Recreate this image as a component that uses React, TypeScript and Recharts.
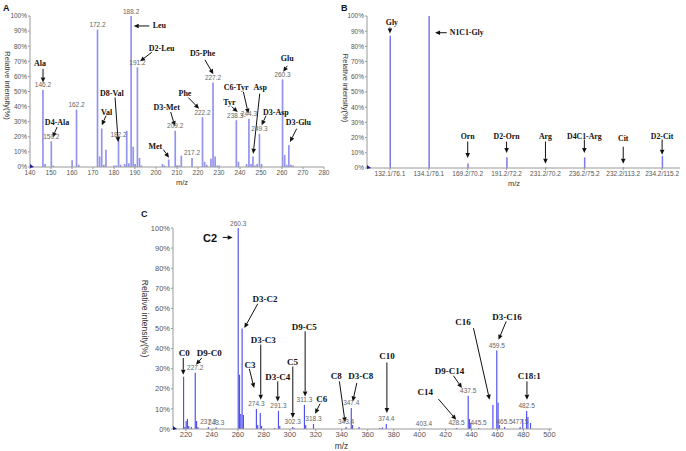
import React from 'react';
import { BarChart, Bar, XAxis, YAxis, LabelList, ReferenceLine, ReferenceDot } from 'recharts';

const SERIF = '"Liberation Serif", "Times New Roman", serif';
const SANS = '"Liberation Sans", Arial, sans-serif';

const Y_TICKS = [0, 10, 20, 30, 40, 50, 60, 70, 80, 90, 100];

// ---- panel A: amino acids ----
const A_MZ = [146.2, 147.2, 150.2, 151.2, 160.1, 162.2, 163.2, 172.2, 173.2, 174.2, 175.2, 176.2, 180.1, 181.1, 182.2, 183.2, 185.1, 186.1, 187.1, 188.2, 189.2, 190.1, 191.2, 192.2, 193.1, 203.1, 204.1, 206.1, 209.2, 210.1, 211.1, 212.1, 217.2, 222.2, 223.2, 224.2, 226.2, 227.2, 228.2, 229.2, 230.2, 238.3, 239.3, 243.2, 244.3, 245.3, 246.2, 247.2, 248.2, 249.3, 250.3, 260.3, 261.3, 262.3, 263.3, 264.3, 265.3];
const A_INT = [51, 2, 17, 1, 4.5, 38, 1.5, 91, 7, 25.5, 1.5, 11.5, 1, 1, 18, 1.5, 2, 24, 2.5, 100, 13.5, 2, 66, 6, 1, 2, 1, 5, 24, 1.2, 1, 7.5, 6, 33, 3.5, 1.5, 5.5, 56, 7, 1, 1, 31, 3.5, 2, 32, 2, 7, 1, 2, 22, 2, 58, 8, 1.5, 14.5, 1.5, 1];
const A_TAGS = ['146.2', '150.2', '162.2', '172.2', '182.2', '188.2', '191.2', '209.2', '217.2', '222.2', '227.2', '238.3-', '244.3', '249.3', '260.3'];
const A_TICKS = [140, 150, 160, 170, 180, 190, 200, 210, 220, 230, 240, 250, 260, 270, 280];

// ---- panel B: MRM transitions ----
const B_CATS = ['132.1/76.1', '134.1/76.1', '169.2/70.2', '191.2/72.2', '231.2/70.2', '236.2/75.2', '232.2/113.2', '234.2/115.2'];
const B_INT = [87, 100, 3, 7, 0.4, 7, 0.4, 8];

// ---- panel C: acylcarnitines ----
const C_MZ = [218.2, 219.2, 220.2, 221.2, 222.2, 224.2, 227.2, 228.2, 229.2, 237.3, 243.3, 260.3, 261.3, 262.3, 263.3, 264.3, 274.3, 275.3, 277.3, 278.3, 288.3, 291.3, 292.3, 302.3, 303.3, 311.3, 312.3, 318.3, 343.4, 347.4, 348.4, 353.4, 369.4, 371.4, 374.4, 403.4, 428.5, 437.5, 438.5, 439.5, 445.5, 456.5, 459.5, 460.5, 461.5, 465.5, 477.5, 479.5, 482.5, 483.5, 485.5];
const C_INT = [26, 1, 4, 5, 1.5, 1, 28, 4, 1, 1, 0.8, 100, 27, 7.5, 50, 7, 10, 2, 8, 1.5, 0.5, 9, 1.5, 1, 0.5, 12, 2, 2.5, 1, 10.5, 2, 1, 0.5, 0.8, 2.5, 0.3, 0.5, 16.5, 5, 3, 0.5, 12, 39, 13, 2, 1, 1, 5, 9, 6, 3];
const C_TAGS = ['227.2', '237.3', '243.3', '260.3', '274.3', '291.3', '302.3', '311.3', '318.3', '343.4', '347.4', '374.4', '403.4', '428.5', '437.5', '445.5', '459.5', '465.5', '477.5', '482.5'];
const C_TICKS = [220, 240, 260, 280, 300, 320, 340, 360, 380, 400, 420, 440, 460, 480, 500];

type Note = { t: string; tx: number; ty: number; a: number[]; anchor?: string; big?: boolean };

const A_NOTES: Note[] = [
  { t: 'Ala', tx: 144.8, ty: 68.6, a: [146.2, 65, 146.2, 56] },
  { t: 'D4-Ala', tx: 152.9, ty: 29.6, a: [152.9, 26.5, 150.8, 19.6] },
  { t: 'D8-Val', tx: 179, ty: 49, a: [180.5, 46, 182, 16.5] },
  { t: 'Val', tx: 176.5, ty: 36.4, a: [176.2, 34, 174.2, 27.6] },
  { t: 'Leu', tx: 201.6, ty: 93.8, a: [196.8, 93.4, 189.4, 93.4] },
  { t: 'D2-Leu', tx: 202.7, ty: 78.4, a: [198, 76, 192.4, 70] },
  { t: 'D3-Met', tx: 205.1, ty: 39.3, a: [207, 36.4, 209, 27] },
  { t: 'Met', tx: 199.7, ty: 13.7, a: [203.5, 11.5, 206.2, 6.2] },
  { t: 'Phe', tx: 213.8, ty: 49, a: [215.4, 46, 220.5, 38.6] },
  { t: 'D5-Phe', tx: 222.2, ty: 75, a: [223.3, 71, 227.3, 61.4] },
  { t: 'Tyr', tx: 234.9, ty: 43, a: [236, 40, 238.9, 36.4] },
  { t: 'C6-Tyr', tx: 238.2, ty: 52.6, a: [241.6, 49.7, 244, 35.4] },
  { t: 'Asp', tx: 249.6, ty: 52.6, a: [249.4, 48.6, 246.3, 8.8] },
  { t: 'D3-Asp', tx: 257.1, ty: 36.4, a: [252.4, 34, 250.3, 27.6] },
  { t: 'Glu', tx: 262.5, ty: 71.8, a: [262.5, 67, 260.6, 63] },
  { t: 'D3-Glu', tx: 267.8, ty: 29.8, a: [267, 25.4, 263.8, 16.6] },
];

const B_NOTES: Note[] = [
  { t: 'Gly', tx: 0.05, ty: 96, a: [0, 92.5, 0, 88.5] },
  { t: 'N1C1-Gly', tx: 1.54, ty: 89, a: [1.46, 89, 1.16, 89], anchor: 'start' },
  { t: 'Orn', tx: 2, ty: 20.7, a: [2, 17.4, 2, 6.5] },
  { t: 'D2-Orn', tx: 3, ty: 20.7, a: [3, 17.4, 3, 9.8] },
  { t: 'Arg', tx: 4, ty: 20.7, a: [4, 17.4, 4, 2.8] },
  { t: 'D4C1-Arg', tx: 5, ty: 20.7, a: [5, 18.7, 5, 9.8] },
  { t: 'Cit', tx: 6, ty: 19.5, a: [6, 14, 6, 2.8] },
  { t: 'D2-Cit', tx: 7, ty: 20.7, a: [7, 18.7, 7, 8.7] },
];

const C_NOTES: Note[] = [
  { t: 'C2', tx: 238.5, ty: 94.8, a: [248.3, 95.3, 256, 95.3], big: true },
  { t: 'D3-C2', tx: 280.9, ty: 64.5, a: [275.3, 62.3, 265, 50.2] },
  { t: 'C0', tx: 218.7, ty: 37.8, a: [217.9, 35.3, 217.9, 27] },
  { t: 'D9-C0', tx: 238, ty: 38, a: [232.1, 35.3, 227.7, 32] },
  { t: 'C3', tx: 269.4, ty: 32, a: [268.8, 29.9, 272.5, 20.4] },
  { t: 'D3-C3', tx: 279.6, ty: 44.4, a: [277.6, 42, 277.6, 14.6] },
  { t: 'D3-C4', tx: 290.7, ty: 26, a: [290.7, 23.7, 290.7, 13.7] },
  { t: 'C5', tx: 302, ty: 33.3, a: [302.3, 31.1, 302.3, 5.5] },
  { t: 'D9-C5', tx: 311.2, ty: 50.5, a: [311.8, 48.6, 311.8, 16.2] },
  { t: 'C6', tx: 324.6, ty: 15, a: [323.3, 12.6, 319.5, 7.6] },
  { t: 'C8', tx: 335.7, ty: 26.2, a: [338.2, 23.7, 342.6, 3.3] },
  { t: 'D3-C8', tx: 354.7, ty: 26.2, a: [351.6, 22.9, 348.5, 13.7] },
  { t: 'C10', tx: 374.8, ty: 36.5, a: [374.8, 33.1, 374.8, 7.9] },
  { t: 'C14', tx: 404.3, ty: 18.2, a: [414.5, 14.9, 428.2, 4.6] },
  { t: 'D9-C14', tx: 423, ty: 28.7, a: [426.1, 26.5, 432.6, 20.4] },
  { t: 'C16', tx: 433.4, ty: 53, a: [441.5, 50.2, 453.9, 14.6] },
  { t: 'D3-C16', tx: 467.3, ty: 55.7, a: [466.7, 53.5, 460.8, 44.4] },
  { t: 'C18:1', tx: 484.5, ty: 26.2, a: [482.7, 23.7, 482.7, 14.6] },
];

const rows = (xs: number[], ys: number[], tags: string[]) =>
  xs.map((x, i) => ({ x, y: ys[i], tag: tags.find((t) => parseFloat(t) === x) }));

const arrowShape = (props: any) => {
  const { x1, y1, x2, y2 } = props;
  const ang = Math.atan2(y2 - y1, x2 - x1);
  const L = 5;
  const W = 2.3;
  const bx = x2 - L * Math.cos(ang);
  const by = y2 - L * Math.sin(ang);
  const px = -Math.sin(ang) * W;
  const py = Math.cos(ang) * W;
  return (
    <g>
      <line x1={x1} y1={y1} x2={bx} y2={by} stroke="#111" strokeWidth={1} />
      <polygon points={`${x2},${y2} ${bx + px},${by + py} ${bx - px},${by - py}`} fill="#111" />
    </g>
  );
};

const originMark = (props: any) => {
  const { cx, cy } = props;
  return <polygon points={`${cx},${cy - 3} ${cx + 4},${cy} ${cx},${cy + 1}`} fill="#1c1c8c" />;
};

type PanelProps = {
  left: number; top: number; width: number; height: number;
  margin: { top: number; right: number; left: number; bottom: number };
  yw: number; xh: number;
  domain: number[]; ticks: number[]; fmt?: (v: number) => string;
  data: { x: number; y: number; tag?: string }[];
  color: string; barSize: number;
  notes: Note[];
  fs: number; tagFs: number; noteFs: number; titleFs: number;
  yTitleDx: number; yTitleDy: number; mzDx: number; mzDy: number;
};

function Spectrum(p: PanelProps) {
  const tagContent = (props: any) => {
    const { x, y, width, value } = props;
    if (!value) return null;
    return (
      <text x={x + width / 2} y={y - 2.5} textAnchor="middle" fontSize={p.tagFs} fill="#666" fontFamily={SANS}>
        {value}
      </text>
    );
  };
  return (
    <div style={{ position: 'absolute', left: p.left, top: p.top }}>
      <BarChart width={p.width} height={p.height} data={p.data} margin={p.margin}>
        <XAxis
          dataKey="x"
          type="number"
          domain={p.domain}
          ticks={p.ticks}
          tickFormatter={p.fmt}
          allowDataOverflow
          interval={0}
          height={p.xh}
          tickSize={2}
          tickMargin={1}
          stroke="#9a9a9a"
          tick={{ fontSize: p.fs, fill: '#555', fontFamily: SANS }}
          label={{
            content: (lp: any) => {
              const vb = lp.viewBox;
              return (
                <text x={vb.x + vb.width / 2 + p.mzDx} y={vb.y + p.mzDy} textAnchor="middle" dominantBaseline="central" fontSize={p.titleFs} fill="#333" fontFamily={SANS}>
                  m/z
                </text>
              );
            },
          }}
        />
        <YAxis
          type="number"
          domain={[0, 100]}
          ticks={Y_TICKS}
          interval={0}
          tickFormatter={(v: number) => v + '%'}
          width={p.yw}
          tickSize={2}
          tickMargin={1}
          stroke="#9a9a9a"
          tick={{ fontSize: p.fs, fill: '#555', fontFamily: SANS }}
          label={{
            content: (lp: any) => {
              const vb = lp.viewBox;
              const x = vb.x + p.yTitleDx;
              const y = vb.y + vb.height / 2 + p.yTitleDy;
              return (
                <text x={x} y={y} transform={`rotate(90, ${x}, ${y})`} textAnchor="middle" dominantBaseline="central" fontSize={p.titleFs} fill="#333" fontFamily={SANS}>
                  Relative intensity(%)
                </text>
              );
            },
          }}
        />
        <Bar dataKey="y" fill={p.color} barSize={p.barSize} isAnimationActive={false}>
          <LabelList dataKey="tag" content={tagContent} />
        </Bar>
        <ReferenceDot x={p.domain[0]} y={0} ifOverflow="visible" shape={originMark} />
        {p.notes.map((n) => (
          <ReferenceLine
            key={'a' + n.t}
            segment={[{ x: n.a[0], y: n.a[1] }, { x: n.a[2], y: n.a[3] }]}
            ifOverflow="visible"
            shape={arrowShape}
          />
        ))}
        {p.notes.map((n) => (
          <ReferenceDot
            key={'t' + n.t}
            x={n.tx}
            y={n.ty}
            ifOverflow="visible"
            shape={(dp: any) => (
              <text
                x={dp.cx}
                y={dp.cy}
                textAnchor={n.anchor || 'middle'}
                dominantBaseline="central"
                fontSize={n.big ? p.noteFs + 2 : p.noteFs}
                fontWeight="bold"
                fill="#111"
                fontFamily={n.big ? SANS : SERIF}
              >
                {n.t}
              </text>
            )}
          />
        ))}
      </BarChart>
    </div>
  );
}

const letter = (t: string, x: number, y: number) => (
  <div style={{ position: 'absolute', left: x, top: y, fontFamily: SANS, fontWeight: 'bold', fontSize: 9, lineHeight: '9px', color: '#111' }}>{t}</div>
);

export default function App() {
  return (
    <div style={{ position: 'absolute', left: 0, top: 0, width: 686, height: 451, background: '#fff', overflow: 'hidden' }}>
      {letter('A', 3, 4)}
      {letter('B', 341, 4)}
      {letter('C', 141, 210)}
      <Spectrum
        left={0} top={0} width={340} height={200}
        margin={{ top: 16, right: 16, left: 0, bottom: 0 }}
        yw={30} xh={33}
        domain={[140, 280]} ticks={A_TICKS}
        data={rows(A_MZ, A_INT, A_TAGS)}
        color="#9494ee" barSize={2}
        notes={A_NOTES}
        fs={6.5} tagFs={6.5} noteFs={8} titleFs={7.5}
        yTitleDx={7} yTitleDy={-6} mzDx={5} mzDy={15}
      />
      <Spectrum
        left={340} top={0} width={346} height={200}
        margin={{ top: 16, right: 6, left: 0, bottom: 0 }}
        yw={27} xh={32}
        domain={[-0.59, 7.46]} ticks={[0, 1, 2, 3, 4, 5, 6, 7]}
        fmt={(v: number) => B_CATS[v]}
        data={rows(B_INT.map((_, i) => i), B_INT, [])}
        color="#7a7ae6" barSize={1.5}
        notes={B_NOTES}
        fs={6.5} tagFs={6.5} noteFs={7.8} titleFs={7.5}
        yTitleDx={5} yTitleDy={-4} mzDx={-9.5} mzDy={15}
      />
      <Spectrum
        left={130} top={205} width={430} height={246}
        margin={{ top: 23, right: 8, left: 0, bottom: 0 }}
        yw={43} xh={22}
        domain={[210, 502]} ticks={C_TICKS}
        data={rows(C_MZ, C_INT, C_TAGS)}
        color="#5050ee" barSize={2}
        notes={C_NOTES}
        fs={7.5} tagFs={6.5} noteFs={9} titleFs={8.5}
        yTitleDx={15} yTitleDy={-10} mzDx={-21} mzDy={17}
      />
    </div>
  );
}
